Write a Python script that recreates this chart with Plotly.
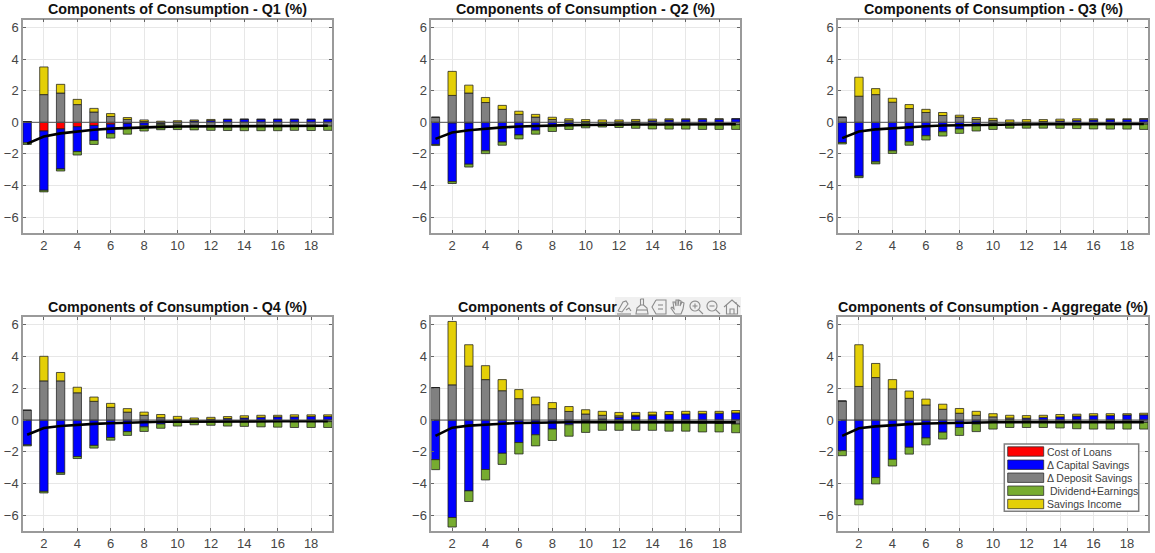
import math
import plotly.graph_objects as go

W, H = 1155, 553
periods = list(range(1, 20))
x_ticks = list(range(2, 20, 2))
y_ticks = [-6, -4, -2, 0, 2, 4, 6]
series_names = ["Cost of Loans", "Δ Capital Savings", "Δ Deposit Savings", "\u00a0Dividend+Earnings", "Savings Income"]
series_colors = ["#ff0000", "#0000ff", "#808080", "#77ac30", "#e4cf07"]

titles = ["Components of Consumption - Q1 (%)", "Components of Consumption - Q2 (%)", "Components of Consumption - Q3 (%)",
          "Components of Consumption - Q4 (%)", "Components of Consur", "Components of Consumption - Aggregate (%)"]

q1_cost = [0, -.55, -.42, -.28, -.2, -.12, -.08, -.04, -.03, -.02, -.01, 0, 0, 0, 0, 0, 0, 0, 0]
q1_cap = [-1.3, -3.75, -2.53, -1.57, -.95, -.6, -.27, -.16, -.05, .02, .08, .12, .18, .19, .19, .19, .19, .19, .19]
q1_dep = [.05, 1.75, 1.85, 1.12, .65, .37, .18, .05, -.08, -.14, -.18, -.2, -.22, -.23, -.23, -.23, -.23, -.24, -.24]
q1_div = [-.1, -.1, -.13, -.22, -.25, -.28, -.4, -.35, -.31, -.3, -.29, -.31, -.3, -.3, -.3, -.3, -.28, -.28, -.27]
q1_inc = [0, 1.75, .55, .33, .23, .18, .12, .1, .07, .08, .07, .06, .02, .01, 0, 0, 0, 0, 0]
q1_total = [-1.35, -.9, -.7, -.57, -.47, -.4, -.35, -.32, -.29, -.27, -.26, -.25, -.24, -.24, -.23, -.23, -.22, -.22, -.22]

q2_cost = [0, -.05, -.05, -.02, -.01, 0, 0, 0, 0, 0, 0, 0, 0, 0, 0, 0, 0, 0, 0]
q2_cap = [-1.4, -3.7, -2.6, -1.78, -1.24, -.8, -.5, -.28, -.13, -.05, -.02, .03, .07, .1, .15, .17, .2, .2, .22]
q2_dep = [.32, 1.7, 1.85, 1.25, .82, .5, .33, .18, .1, .05, -.02, -.06, -.09, -.11, -.13, -.14, -.15, -.15, -.15]
q2_div = [-.07, -.12, -.18, -.18, -.2, -.25, -.25, -.3, -.32, -.3, -.26, -.27, -.29, -.31, -.3, -.29, -.3, -.3, -.3]
q2_inc = [0, 1.52, .5, .32, .25, .2, .17, .14, .12, .12, .15, .12, .11, .1, .07, .05, .02, .02, 0]
q2_total = [-1.05, -.65, -.5, -.4, -.32, -.27, -.23, -.2, -.18, -.17, -.15, -.15, -.14, -.14, -.13, -.13, -.12, -.12, -.12]

q3_cost = [0] * 19
q3_cap = [-1.28, -3.4, -2.5, -1.8, -1.23, -.85, -.6, -.42, -.2, -.08, -.02, .02, .05, .08, .12, .15, .17, .18, .2]
q3_dep = [.32, 1.65, 1.75, 1.27, .87, .62, .43, .33, .18, .12, -.03, -.05, -.06, -.08, -.1, -.1, -.1, -.1, -.12]
q3_div = [-.09, -.1, -.13, -.17, -.22, -.27, -.27, -.28, -.35, -.37, -.32, -.32, -.31, -.3, -.3, -.32, -.33, -.33, -.33]
q3_inc = [0, 1.2, .38, .25, .25, .2, .19, .12, .12, .13, .15, .15, .12, .12, .1, .07, .05, .04, .03]
q3_total = [-1.0, -.58, -.45, -.37, -.3, -.25, -.2, -.18, -.16, -.15, -.14, -.13, -.12, -.12, -.11, -.11, -.1, -.1, -.1]

q4_cost = [0] * 19
q4_cap = [-1.57, -4.5, -3.33, -2.3, -1.6, -1.1, -.73, -.43, -.25, -.08, -.02, .05, .1, .13, .17, .2, .2, .23, .23]
q4_dep = [.62, 2.47, 2.47, 1.72, 1.18, .8, .5, .3, .15, .05, -.02, -.05, -.06, -.08, -.08, -.1, -.1, -.1, -.1]
q4_div = [-.06, -.1, -.1, -.13, -.17, -.17, -.24, -.29, -.27, -.3, -.26, -.28, -.32, -.32, -.35, -.35, -.37, -.37, -.37]
q4_inc = [0, 1.55, .53, .35, .27, .25, .22, .2, .2, .18, .13, .12, .12, .14, .13, .1, .13, .1, .1]
q4_total = [-.93, -.5, -.38, -.3, -.24, -.2, -.16, -.13, -.11, -.1, -.09, -.08, -.08, -.08, -.08, -.08, -.08, -.08, -.08]

q5_cost = [0] * 19
q5_cap = [-2.5, -6.15, -4.47, -3.12, -2.1, -1.42, -.93, -.57, -.3, -.05, .06, .17, .25, .3, .35, .38, .4, .43, .45]
q5_dep = [2.05, 2.22, 3.4, 2.55, 1.85, 1.35, .97, .72, .54, .38, .24, .1, .05, .03, -.1, -.15, -.2, -.22, -.25]
q5_div = [-.63, -.6, -.67, -.66, -.7, -.72, -.7, -.72, -.72, -.73, -.65, -.65, -.65, -.65, -.6, -.55, -.55, -.53, -.55]
q5_inc = [0, 4.0, 1.35, .88, .7, .57, .48, .38, .31, .27, .25, .21, .18, .17, .19, .17, .15, .12, .15]
q5_total = [-1.0, -.48, -.35, -.28, -.23, -.19, -.16, -.15, -.14, -.13, -.13, -.13, -.13, -.13, -.13, -.13, -.14, -.14, -.15]

agg_cost = [0] * 19
agg_cap = [-1.93, -5, -3.63, -2.48, -1.72, -1.13, -.77, -.47, -.25, -.05, .03, .12, .17, .2, .25, .27, .28, .32, .33]
agg_dep = [1.2, 2.12, 2.68, 1.97, 1.37, .95, .68, .43, .3, .2, .1, -.05, -.08, -.1, -.12, -.14, -.15, -.15, -.15]
agg_div = [-.32, -.35, -.4, -.42, -.43, -.44, -.43, -.5, -.48, -.52, -.47, -.42, -.39, -.4, -.43, -.43, -.42, -.42, -.42]
agg_inc = [0, 2.63, .89, .58, .46, .37, .32, .3, .25, .2, .17, .16, .13, .15, .12, .13, .12, .08, .1]
agg_total = [-1.0, -.52, -.4, -.32, -.26, -.22, -.19, -.17, -.15, -.14, -.14, -.14, -.14, -.14, -.13, -.13, -.13, -.13, -.13]

panels = [
    (q1_cost, q1_cap, q1_dep, q1_div, q1_inc, q1_total),
    (q2_cost, q2_cap, q2_dep, q2_div, q2_inc, q2_total),
    (q3_cost, q3_cap, q3_dep, q3_div, q3_inc, q3_total),
    (q4_cost, q4_cap, q4_dep, q4_div, q4_inc, q4_total),
    (q5_cost, q5_cap, q5_dep, q5_div, q5_inc, q5_total),
    (agg_cost, agg_cap, agg_dep, agg_div, agg_inc, agg_total),
]

col_px = [(23, 332), (431.3, 740), (838, 1148)]
row_px = [(19.5, 233), (317, 531)]
FONT = "Liberation Sans, Arial, sans-serif"


def px(x):
    return x / W


def py(y):
    return 1 - y / H


def rect(x0, y0, x1, y1, fill, line, lw=1.0):
    return dict(type="rect", xref="paper", yref="paper", x0=px(x0), x1=px(x1), y0=py(y1), y1=py(y0), layer="above",
                fillcolor=fill, line=dict(color=line, width=lw))


fig = go.Figure()
layout_axes = {}
annotations = []
shapes = []
for i, panel in enumerate(panels):
    r, c = divmod(i, 3)
    suffix = "" if i == 0 else str(i + 1)
    xref, yref = "x" + suffix, "y" + suffix
    for name, color, vals in zip(series_names, series_colors, panel[:5]):
        fig.add_trace(go.Bar(x=periods, y=vals, width=0.5, xaxis=xref, yaxis=yref, name=name, showlegend=False,
                             marker=dict(color=color, line=dict(color="rgba(30,30,30,0.75)", width=1)), hoverinfo="skip"))
    fig.add_trace(go.Scatter(x=periods, y=panel[5], mode="lines", xaxis=xref, yaxis=yref, showlegend=False,
                             line=dict(color="#000000", width=2.6), hoverinfo="skip"))
    x0, x1 = col_px[c]
    y0, y1 = row_px[r]
    axis_common = dict(showline=True, linecolor="#9a9a9a", linewidth=1.5, mirror="allticks", ticks="inside", ticklen=3,
                       tickcolor="#666666", tickwidth=1, showgrid=True, gridcolor="#e7e7e7", gridwidth=1,
                       tickfont=dict(family=FONT, size=13, color="#454545"), layer="above traces")
    layout_axes["xaxis" + suffix] = dict(domain=[px(x0), px(x1)], range=[0.75, 19.25], tickvals=x_ticks, anchor=yref,
                                         zeroline=False, **axis_common)
    layout_axes["yaxis" + suffix] = dict(domain=[py(y1), py(y0)], range=[-7, 6.5], tickvals=y_ticks, anchor=xref,
                                         zeroline=False, tickformat="d", **axis_common)
    # the fifth title is covered by the viewer toolbar in the reference, only its left part shows
    covered = i == 4
    annotations.append(dict(text="<b>%s</b>" % titles[i], xref="paper", yref="paper", x=px(456 if covered else (x0 + x1) / 2),
                            y=py(y0 - 10.5), xanchor="left" if covered else "center", yanchor="middle", showarrow=False,
                            font=dict(family=FONT, size=14.3, color="#111111")))
    shapes.append(dict(type="line", xref=xref + " domain", yref=yref, x0=0, x1=1, y0=0, y1=0, layer="above",
                       line=dict(color="#505050", width=1)))

# legend box inside the aggregate panel
legend_box = (1004.3, 444, 1138.7, 511.3)
legend_rows = [(446.8, 456.2), (460, 469.4), (473, 482.4), (486, 495.4), (499.3, 508.7)]
shapes.append(rect(*legend_box, "white", "#7f7f7f", 1.5))
for name, color, (ya, yb) in zip(series_names, series_colors, legend_rows):
    shapes.append(rect(1007.7, ya, 1043.7, yb, color, "rgba(40,40,40,0.75)", 1))
    annotations.append(dict(text=name, xref="paper", yref="paper", x=px(1044.5), y=py((ya + yb) / 2), xanchor="left", yanchor="middle",
                            showarrow=False, font=dict(family=FONT, size=10.5, color="#404040")))

# viewer toolbar overlapping the fifth panel's title
shapes.append(rect(615, 297, 741, 315, "#f0f0f0", "#f0f0f0", 0))


def circle(cx, cy, rad, n=20):
    return [(cx + rad * math.cos(2 * math.pi * k / n), cy + rad * math.sin(2 * math.pi * k / n)) for k in range(n + 1)]


lens = [circle(-1, -1, 5), [(2.6, 2.6), (7, 7)]]
icons = [
    (624, [[(-6, 4), (-1, -5), (2, -6), (4, -3), (-2, 5), (-6, 4)], [(-7, 7), (7, 7)], [(2, 3), (5, 1), (7, 4)]]),
    (642, [[(-1.5, -8), (1.5, -8), (1.5, -2), (-1.5, -2), (-1.5, -8)], [(-1.5, -2), (-5, 1), (-6, 7), (6, 7), (5, 1), (1.5, -2)], [(-5, 3), (5, 3)]]),
    (659, [[(-3, -7), (7, -7), (7, 7), (-3, 7), (-7, 0), (-3, -7)], [(-1, -2), (4, -2)], [(-1, 2), (4, 2)]]),
    (678, [[(-3, 7), (-7, 1), (-6, 0), (-4, 2), (-5, -5), (-3, -5), (-2, -1), (-2, -7), (0, -7), (0, -1), (1, -7), (3, -6), (2, -1), (4, -5), (6, -4), (5, 2), (3, 7), (-3, 7)]]),
    (696, lens + [[(-3.5, -1), (1.5, -1)], [(-1, -3.5), (-1, 1.5)]]),
    (713, lens + [[(-3.5, -1), (1.5, -1)]]),
    (732, [[(-8, 0), (0, -7), (8, 0)], [(-5.5, -2), (-5.5, 7), (5.5, 7), (5.5, -2)], [(-2, 7), (-2, 2), (2, 2), (2, 7)], [(4, -5), (4, -3)]]),
]
for cx, strokes in icons:
    for stroke in strokes:
        path = "M " + " L ".join("%.5f,%.5f" % (px(cx + dx), py(307 + dy)) for dx, dy in stroke)
        shapes.append(dict(type="path", path=path, xref="paper", yref="paper", layer="above",
                           line=dict(color="#8c8c8c", width=1.1)))

fig.update_layout(
    width=W, height=H, margin=dict(l=0, r=0, t=0, b=0), paper_bgcolor="white", plot_bgcolor="white",
    barmode="relative", annotations=annotations, shapes=shapes, showlegend=False,
    **layout_axes,
)
fig.write_html("out.html", config=dict(displayModeBar=False),
               post_script="document.body.style.margin='0';")
